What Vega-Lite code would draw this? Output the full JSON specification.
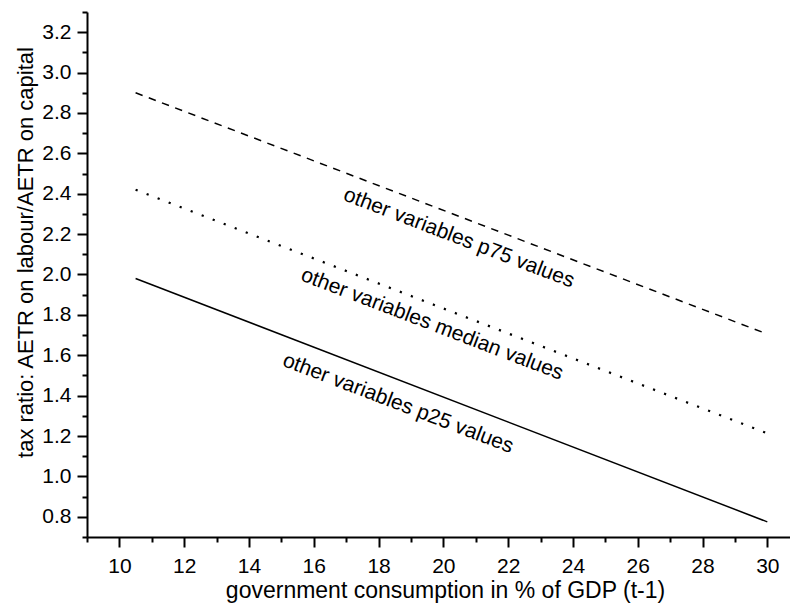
{
  "$schema": "https://vega.github.io/schema/vega-lite/v6.json",
  "width": 703,
  "height": 525,
  "autosize": "none",
  "padding": {"left": 87, "top": 12, "right": 0, "bottom": 66},
  "background": "white",
  "config": {
    "view": {"stroke": null},
    "font": "Liberation Sans",
    "axis": {
      "grid": false,
      "domainColor": "black",
      "domainWidth": 2,
      "tickColor": "black",
      "tickWidth": 2,
      "labelColor": "black",
      "labelFont": "Liberation Sans",
      "labelFontSize": 21,
      "titleColor": "black",
      "titleFont": "Liberation Sans",
      "titleFontSize": 22,
      "titleFontWeight": "normal",
      "labelOverlap": false,
      "labelFlush": false
    }
  },
  "datasets": {
    "lines": [
      {"series": "p75", "x": 10.5, "y": 2.90},
      {"series": "p75", "x": 30, "y": 1.705},
      {"series": "median", "x": 10.5, "y": 2.42},
      {"series": "median", "x": 30, "y": 1.213},
      {"series": "p25", "x": 10.5, "y": 1.98},
      {"series": "p25", "x": 30, "y": 0.775}
    ],
    "labels": [
      {"text": "other variables p75 values", "x": 20.48, "y": 2.18},
      {"text": "other variables median values", "x": 19.65, "y": 1.753},
      {"text": "other variables p25 values", "x": 18.6, "y": 1.36}
    ]
  },
  "encoding": {
    "x": {
      "field": "x",
      "type": "quantitative",
      "scale": {"domain": [9, 30.7], "nice": false, "zero": false},
      "axis": {
        "title": "government consumption in % of GDP (t-1)",
        "titleFontSize": 23,
        "values": [9, 10, 11, 12, 13, 14, 15, 16, 17, 18, 19, 20, 21, 22, 23, 24, 25, 26, 27, 28, 29, 30],
        "tickSize": {"condition": {"test": "datum.value % 2 !== 0", "value": 5}, "value": 10},
        "labelExpr": "datum.value % 2 === 0 ? datum.label : ''",
        "labelPadding": 8,
        "titleX": 358,
        "titleY": 60,
        "titleBaseline": "alphabetic"
      }
    },
    "y": {
      "field": "y",
      "type": "quantitative",
      "scale": {"domain": [0.7, 3.3], "nice": false, "zero": false},
      "axis": {
        "title": "tax ratio: AETR on labour/AETR on capital",
        "values": [0.7, 0.8, 0.9, 1.0, 1.1, 1.2, 1.3, 1.4, 1.5, 1.6, 1.7, 1.8, 1.9, 2.0, 2.1, 2.2, 2.3, 2.4, 2.5, 2.6, 2.7, 2.8, 2.9, 3.0, 3.1, 3.2, 3.3],
        "format": ".1f",
        "tickSize": {"condition": {"test": "round(datum.value * 10) % 2 === 1", "value": 5}, "value": 10},
        "labelExpr": "round(datum.value * 10) % 2 === 0 ? datum.label : ''",
        "labelPadding": 6,
        "titleAngle": 270,
        "titleX": -55,
        "titleY": 240,
        "titleBaseline": "alphabetic"
      }
    }
  },
  "layer": [
    {
      "data": {"name": "lines"},
      "transform": [{"filter": "datum.series === 'p75'"}],
      "mark": {"type": "line", "color": "black", "strokeWidth": 1.5, "strokeDash": [7.5, 6.6], "strokeCap": "butt"}
    },
    {
      "data": {"name": "lines"},
      "transform": [{"filter": "datum.series === 'median'"}],
      "mark": {"type": "line", "color": "black", "strokeWidth": 2.2, "strokeDash": [2.2, 9.6], "strokeCap": "butt"}
    },
    {
      "data": {"name": "lines"},
      "transform": [{"filter": "datum.series === 'p25'"}],
      "mark": {"type": "line", "color": "black", "strokeWidth": 1.5}
    },
    {
      "data": {"name": "labels"},
      "mark": {"type": "text", "font": "Liberation Sans", "fontSize": 21, "angle": 21, "align": "center", "baseline": "middle", "color": "black"},
      "encoding": {"text": {"field": "text"}}
    }
  ]
}
